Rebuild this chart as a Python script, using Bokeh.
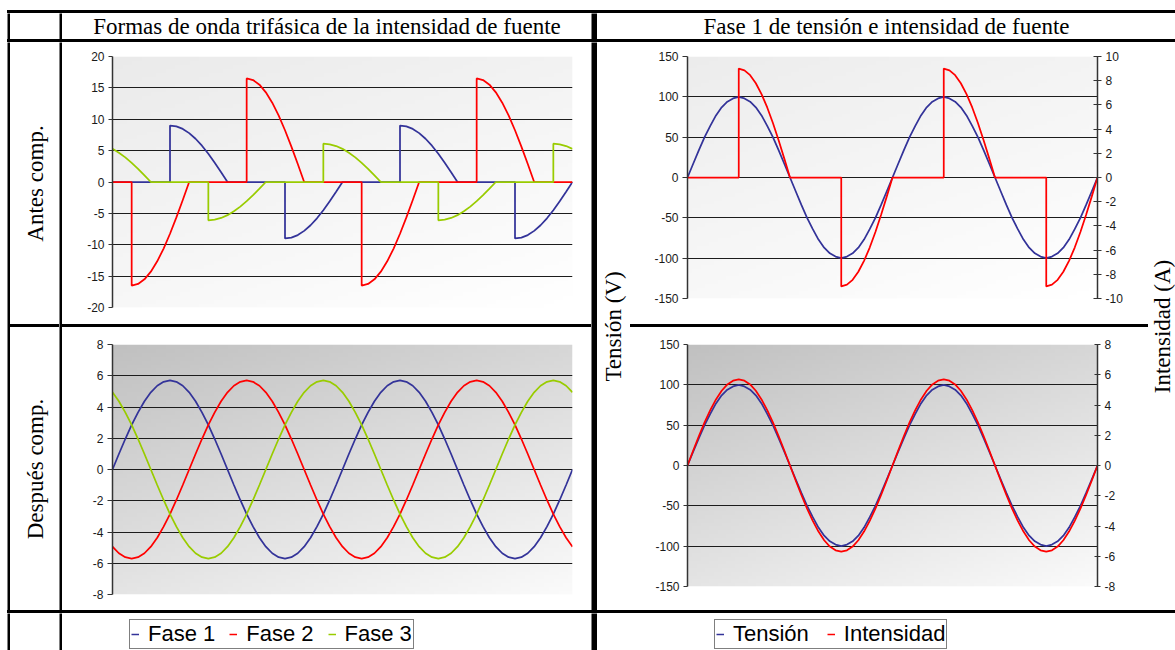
import numpy as np
from bokeh.plotting import figure
from bokeh.layouts import row, column
from bokeh.models import (Range1d, LinearAxis, FixedTicker, Grid, Label, Legend,
                          LegendItem, Spacer, CustomJSTickFormatter)
from bokeh.embed import file_html
from bokeh.resources import INLINE

# ------------------------------------------------------------------ datos
# ángulo eléctrico (grados) para las ondas senoidales
angulo = list(range(0, 721, 10))

# --- Antes de compensar: intensidades de fuente (A)
fase1_antes_x = [0, 90, 90, 100, 110, 120, 130, 140, 150, 160, 170, 180,
                 270, 270, 280, 290, 300, 310, 320, 330, 340, 350, 360,
                 450, 450, 460, 470, 480, 490, 500, 510, 520, 530, 540,
                 630, 630, 640, 650, 660, 670, 680, 690, 700, 710, 720]
fase1_antes_y = [0, 0, 9, 8.86, 8.46, 7.79, 6.89, 5.79, 4.5, 3.08, 1.56, 0,
                 0, -9, -8.86, -8.46, -7.79, -6.89, -5.79, -4.5, -3.08, -1.56, 0,
                 0, 9, 8.86, 8.46, 7.79, 6.89, 5.79, 4.5, 3.08, 1.56, 0,
                 0, -9, -8.86, -8.46, -7.79, -6.89, -5.79, -4.5, -3.08, -1.56, 0]
fase2_antes_x = [0, 30, 30, 40, 50, 60, 70, 80, 90, 100, 110, 120,
                 210, 210, 220, 230, 240, 250, 260, 270, 280, 290, 300,
                 390, 390, 400, 410, 420, 430, 440, 450, 460, 470, 480,
                 570, 570, 580, 590, 600, 610, 620, 630, 640, 650, 660, 720]
fase2_antes_y = [0, 0, -16.5, -16.25, -15.51, -14.29, -12.64, -10.61, -8.25, -5.64, -2.87, 0,
                 0, 16.5, 16.25, 15.51, 14.29, 12.64, 10.61, 8.25, 5.64, 2.87, 0,
                 0, -16.5, -16.25, -15.51, -14.29, -12.64, -10.61, -8.25, -5.64, -2.87, 0,
                 0, 16.5, 16.25, 15.51, 14.29, 12.64, 10.61, 8.25, 5.64, 2.87, 0, 0]
fase3_antes_x = [0, 10, 20, 30, 40, 50, 60,
                 150, 150, 160, 170, 180, 190, 200, 210, 220, 230, 240,
                 330, 330, 340, 350, 360, 370, 380, 390, 400, 410, 420,
                 510, 510, 520, 530, 540, 550, 560, 570, 580, 590, 600,
                 690, 690, 700, 710, 720]
fase3_antes_y = [5.28, 4.67, 3.92, 3.05, 2.09, 1.06, 0,
                 0, -6.1, -6.01, -5.73, -5.28, -4.67, -3.92, -3.05, -2.09, -1.06, 0,
                 0, 6.1, 6.01, 5.73, 5.28, 4.67, 3.92, 3.05, 2.09, 1.06, 0,
                 0, -6.1, -6.01, -5.73, -5.28, -4.67, -3.92, -3.05, -2.09, -1.06, 0,
                 0, 6.1, 6.01, 5.73, 5.28]

# tensión de la fase 1 (V)
tension = [0, 17, 34, 50, 64, 77, 87, 94, 98, 100, 98, 94, 87, 77, 64, 50, 34, 17,
           0, -17, -34, -50, -64, -77, -87, -94, -98, -100, -98, -94, -87, -77, -64, -50, -34, -17,
           0, 17, 34, 50, 64, 77, 87, 94, 98, 100, 98, 94, 87, 77, 64, 50, 34, 17,
           0, -17, -34, -50, -64, -77, -87, -94, -98, -100, -98, -94, -87, -77, -64, -50, -34, -17,
           0]
# intensidad de la fase 1 antes de compensar (A): la misma onda que Fase 1
intensidad_antes_x = fase1_antes_x
intensidad_antes_y = fase1_antes_y

# --- Después de compensar (A)
fase1_desp = [0, 0.99, 1.95, 2.85, 3.66, 4.37, 4.94, 5.36, 5.61, 5.7, 5.61, 5.36, 4.94, 4.37, 3.66, 2.85, 1.95, 0.99,
              0, -0.99, -1.95, -2.85, -3.66, -4.37, -4.94, -5.36, -5.61, -5.7, -5.61, -5.36, -4.94, -4.37, -3.66, -2.85, -1.95, -0.99,
              0, 0.99, 1.95, 2.85, 3.66, 4.37, 4.94, 5.36, 5.61, 5.7, 5.61, 5.36, 4.94, 4.37, 3.66, 2.85, 1.95, 0.99,
              0, -0.99, -1.95, -2.85, -3.66, -4.37, -4.94, -5.36, -5.61, -5.7, -5.61, -5.36, -4.94, -4.37, -3.66, -2.85, -1.95, -0.99,
              0]
fase2_desp = [-4.94, -5.36, -5.61, -5.7, -5.61, -5.36, -4.94, -4.37, -3.66, -2.85, -1.95, -0.99,
              0, 0.99, 1.95, 2.85, 3.66, 4.37, 4.94, 5.36, 5.61, 5.7, 5.61, 5.36,
              4.94, 4.37, 3.66, 2.85, 1.95, 0.99, 0, -0.99, -1.95, -2.85, -3.66, -4.37,
              -4.94, -5.36, -5.61, -5.7, -5.61, -5.36, -4.94, -4.37, -3.66, -2.85, -1.95, -0.99,
              0, 0.99, 1.95, 2.85, 3.66, 4.37, 4.94, 5.36, 5.61, 5.7, 5.61, 5.36,
              4.94, 4.37, 3.66, 2.85, 1.95, 0.99, 0, -0.99, -1.95, -2.85, -3.66, -4.37,
              -4.94]
fase3_desp = [4.94, 4.37, 3.66, 2.85, 1.95, 0.99, 0, -0.99, -1.95, -2.85, -3.66, -4.37,
              -4.94, -5.36, -5.61, -5.7, -5.61, -5.36, -4.94, -4.37, -3.66, -2.85, -1.95, -0.99,
              0, 0.99, 1.95, 2.85, 3.66, 4.37, 4.94, 5.36, 5.61, 5.7, 5.61, 5.36,
              4.94, 4.37, 3.66, 2.85, 1.95, 0.99, 0, -0.99, -1.95, -2.85, -3.66, -4.37,
              -4.94, -5.36, -5.61, -5.7, -5.61, -5.36, -4.94, -4.37, -3.66, -2.85, -1.95, -0.99,
              0, 0.99, 1.95, 2.85, 3.66, 4.37, 4.94, 5.36, 5.61, 5.7, 5.61, 5.36,
              4.94]
# intensidad de la fase 1 después de compensar (A)
intensidad_desp = fase1_desp

# marcas de los ejes
ticks_antes = [-20, -15, -10, -5, 0, 5, 10, 15, 20]
ticks_desp = [-8, -6, -4, -2, 0, 2, 4, 6, 8]
ticks_tension = [-150, -100, -50, 0, 50, 100, 150]
ticks_int_antes = [-10, -8, -6, -4, -2, 0, 2, 4, 6, 8, 10]
ticks_int_desp = [-8, -6, -4, -2, 0, 2, 4, 6, 8]

titulo_izq = "Formas de onda trifásica de la intensidad de fuente"
titulo_der = "Fase 1 de tensión e intensidad de fuente"
fila1 = "Antes comp."
fila2 = "Después comp."
eje_tension = "Tensión (V)"
eje_intensidad = "Intensidad (A)"
nombres_fases = ["Fase 1", "Fase 2", "Fase 3"]
nombres_fase1 = ["Tensión", "Intensidad"]

# ------------------------------------------------------------------ estilo
AZUL, ROJO, VERDE = "#333399", "#ff0000", "#99cc00"
SANS, SERIF = "Liberation Sans", "Liberation Serif"
LW = 1.75
SERIF_SIZE = "23px"

W_MARG, LN, W_LAB, W_IZQ, W_GR, W_DER = 7, 3, 49, 529, 6, 578
H_TOP, H_CAB, H_F1, H_F2, H_LEY = 10, 26, 282, 283, 37
H_CUERPO = H_F1 + LN + H_F2
W_TL, W_TR = 33, 27
W_GRD = W_DER - W_TL - W_TR


def lienzo(w, h, color="white"):
    p = figure(width=w, height=h, x_range=Range1d(0, w), y_range=Range1d(0, h),
               x_axis_type=None, y_axis_type=None, toolbar_location=None, title=None,
               output_backend="svg", min_border=0,
               background_fill_color=color, border_fill_color=color)
    p.outline_line_color = None
    return p


def barra(w, h):
    # línea vertical de la tabla
    return lienzo(w, h, "black")


def barra_h(w, h):
    # línea horizontal de la tabla
    return Spacer(width=w, height=h, styles={"background-color": "black"})


def texto(w, h, txt, x=None, y=None, angle=0.0):
    p = lienzo(w, h)
    p.add_layout(Label(x=w / 2 if x is None else x, y=h / 2 if y is None else y,
                       text=txt, angle=angle, text_align="center", text_baseline="middle",
                       text_font=SERIF, text_font_size=SERIF_SIZE, text_color="black"))
    return p


def gradiente(oscuro, claro, wy=0.62):
    nx, ny = 96, 64
    u = np.linspace(0, 1, nx)[None, :]
    s = np.linspace(1, 0, ny)[:, None]
    t = np.clip(wy * s + (1 - wy) * u, 0, 1)
    v = np.round(oscuro + (claro - oscuro) * t).astype(np.uint8)
    img = np.zeros((ny, nx), dtype=np.uint32)
    vw = img.view(dtype=np.uint8).reshape((ny, nx, 4))
    vw[..., 0] = v
    vw[..., 1] = v
    vw[..., 2] = v
    vw[..., 3] = 255
    return img


def estilo_eje(ax, ticks, t_out, t_in):
    ax.ticker = FixedTicker(ticks=ticks)
    ax.formatter = CustomJSTickFormatter(code="return String(tick);")
    ax.major_tick_out = t_out
    ax.major_tick_in = t_in
    ax.minor_tick_line_color = None
    ax.axis_line_color = "#333333"
    ax.axis_line_width = 1.5
    ax.major_tick_line_color = "#333333"
    ax.major_tick_line_width = 1.2
    ax.major_label_text_font = SANS
    ax.major_label_text_font_size = "12px"
    ax.major_label_text_color = "#1a1a1a"
    ax.major_label_standoff = 4


def grafico(w, h, borde, yrange, yticks, fondo, t_out=4):
    izq, der, arr, aba = borde
    y0, y1 = yrange
    p = figure(width=w, height=h, x_range=Range1d(0, 720), y_range=Range1d(y0, y1),
               x_axis_type=None, toolbar_location=None, output_backend="svg",
               min_border_left=izq, min_border_right=der,
               min_border_top=arr, min_border_bottom=aba,
               background_fill_color="white", border_fill_color="white")
    p.outline_line_color = None
    p.image_rgba(image=[gradiente(*fondo)], x=0, y=y0, dw=720, dh=y1 - y0, level="image")
    estilo_eje(p.yaxis[0], yticks, t_out, 0)
    p.ygrid.ticker = FixedTicker(ticks=[t for t in yticks if t not in (y0, y1)])
    p.ygrid.grid_line_color = "#1c1c1c"
    p.ygrid.grid_line_width = 1
    p.add_layout(Grid(dimension=1, ticker=FixedTicker(ticks=[y0, y1]),
                      grid_line_color="#8a8a8a", grid_line_width=1.2))
    return p


# ------------------------------------------------------------------ gráficos
p1 = grafico(W_IZQ, H_F1, (50, 19, 14, 17), (-20, 20), ticks_antes, (234, 255), 4)
p1.line(fase1_antes_x, fase1_antes_y, line_color=AZUL, line_width=LW)
p1.line(fase2_antes_x, fase2_antes_y, line_color=ROJO, line_width=LW)
p1.line(fase3_antes_x, fase3_antes_y, line_color=VERDE, line_width=LW)

p3 = grafico(W_IZQ, H_F2, (43, 19, 17, 16), (-8, 8), ticks_desp, (192, 250), 5)
p3.line(angulo, fase1_desp, line_color=AZUL, line_width=LW)
p3.line(angulo, fase2_desp, line_color=ROJO, line_width=LW)
p3.line(angulo, fase3_desp, line_color=VERDE, line_width=LW)

p2 = grafico(W_GRD, H_F1, (57, 51, 14, 26), (-150, 150), ticks_tension, (236, 255), 5)
p2.extra_y_ranges = {"amp": Range1d(-10, 10)}
ax2 = LinearAxis(y_range_name="amp")
estilo_eje(ax2, ticks_int_antes, 4, 4)
p2.add_layout(ax2, "right")
p2.line(angulo, tension, line_color=AZUL, line_width=LW)
p2.line(intensidad_antes_x, intensidad_antes_y, line_color=ROJO, line_width=LW, y_range_name="amp")

p4 = grafico(W_GRD, H_F2, (57, 44, 17, 24), (-150, 150), ticks_tension, (192, 250), 4)
p4.extra_y_ranges = {"amp": Range1d(-8, 8)}
ax4 = LinearAxis(y_range_name="amp")
estilo_eje(ax4, ticks_int_desp, 3, 3)
p4.add_layout(ax4, "right")
p4.line(angulo, tension, line_color=AZUL, line_width=LW)
p4.line(angulo, intensidad_desp, line_color=ROJO, line_width=LW, y_range_name="amp")


# ------------------------------------------------------------------ leyendas
def leyenda(w, h, nombres, colores, x, espacio):
    p = lienzo(w, h)
    items = []
    for n, c in zip(nombres, colores):
        r = p.line(x=[float("nan"), float("nan")], y=[float("nan"), float("nan")],
                   line_color=c, line_width=1.5)
        items.append(LegendItem(label=n, renderers=[r]))
    lg = Legend(items=items, orientation="horizontal", location=(x, 1),
                label_text_font=SANS, label_text_font_size="22px", label_text_color="black",
                glyph_width=8, glyph_height=10, label_height=10, label_standoff=9,
                spacing=espacio, padding=1, margin=0,
                border_line_color="black", border_line_width=1,
                background_fill_color="white", background_fill_alpha=1)
    p.add_layout(lg)
    return p


ley1 = leyenda(W_IZQ, H_LEY, nombres_fases, [AZUL, ROJO, VERDE], 67, 14)
ley2 = leyenda(W_DER, H_LEY, nombres_fase1, [AZUL, ROJO], 117, 18)


# ------------------------------------------------------------------ tabla
def linea_h():
    return row(Spacer(width=W_MARG, height=LN), barra_h(1175 - W_MARG, LN))


cabecera = row(Spacer(width=W_MARG, height=H_CAB), barra(LN, H_CAB),
               Spacer(width=W_LAB, height=H_CAB), barra(LN, H_CAB),
               texto(W_IZQ, H_CAB, titulo_izq), barra(W_GR, H_CAB),
               texto(W_DER, H_CAB, titulo_der))

etiquetas = column(texto(W_LAB, H_F1, fila1, x=25, angle=np.pi / 2),
                   barra_h(W_LAB, LN),
                   texto(W_LAB, H_F2, fila2, x=25, angle=np.pi / 2))

bloque_der = row(texto(W_TL, H_CUERPO, eje_tension, x=16, angle=np.pi / 2),
                 column(p2, barra_h(W_GRD, LN), p4),
                 texto(W_TR, H_CUERPO, eje_intensidad, x=14, angle=np.pi / 2))

cuerpo = row(Spacer(width=W_MARG, height=H_CUERPO), barra(LN, H_CUERPO),
             etiquetas, barra(LN, H_CUERPO),
             column(p1, barra_h(W_IZQ, LN), p3), barra(W_GR, H_CUERPO),
             bloque_der)

pie = row(Spacer(width=W_MARG, height=H_LEY), barra(LN, H_LEY),
          Spacer(width=W_LAB, height=H_LEY), barra(LN, H_LEY),
          ley1, barra(W_GR, H_LEY), ley2)

pagina = column(Spacer(width=1175, height=H_TOP), linea_h(), cabecera, linea_h(),
                cuerpo, linea_h(), pie)

open("out.html", "w").write(file_html(pagina, INLINE, title="Formas de onda"))
